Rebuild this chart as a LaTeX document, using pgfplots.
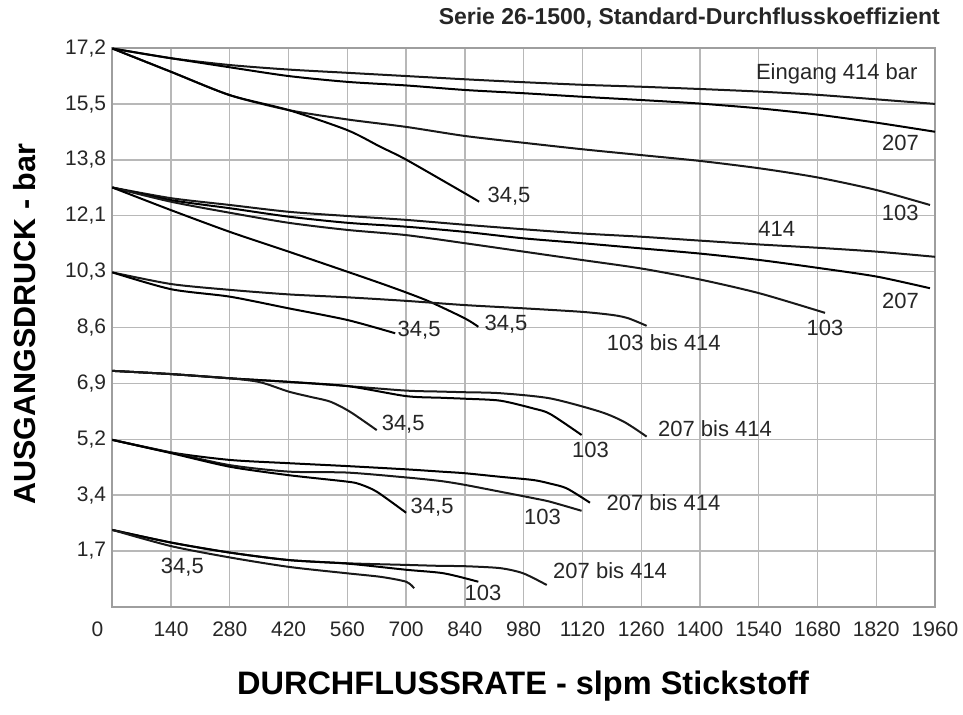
\documentclass[border=0pt]{standalone}
\usepackage{fontspec}
\setmainfont{Liberation Sans}
\usepackage{pgfplots}
\pgfplotsset{compat=1.18}
\begin{document}
\begin{tikzpicture}[x=1bp,y=1bp]
\path[use as bounding box] (0,0) rectangle (963,715);
\begin{axis}[
  at={(112.3bp,108.3bp)}, anchor=south west,
  width=822.7bp, height=558.4bp, scale only axis,
  xmin=0, xmax=1960, ymin=0, ymax=17.237,
  xtick={0,140,...,1960},
  xticklabels={\makebox[0pt][r]{0\hspace{9bp}},140,280,420,560,700,840,980,1120,1260,1400,1540,1680,1820,1960},
  ytick={1.7237,3.4474,5.1711,6.8948,8.6185,10.3422,12.0659,13.7896,15.5133,17.237},
  yticklabels={{1,7},{3,4},{5,2},{6,9},{8,6},{10,3},{12,1},{13,8},{15,5},{17,2}},
  major tick length=0pt,
  grid=major,
  major grid style={draw=black!28, line width=1.3bp},
  axis line style={draw=black!38, line width=2bp},
  xticklabel style={font=\fontsize{21bp}{25bp}\selectfont, anchor=north, inner sep=0pt, yshift=-15bp, text=black!85},
  yticklabel style={font=\fontsize{21bp}{25bp}\selectfont, anchor=east, inner sep=0pt, xshift=-6bp, text=black!85},
  cycle list={{black!90, solid}},
  every axis plot/.append style={line width=2bp, smooth, tension=0.45, no markers},
  clip=false,
]
% group 1
\addplot coordinates {(0,17.23)(140,16.93)(280,16.72)(420,16.58)(560,16.48)(700,16.38)(840,16.28)(980,16.19)(1120,16.11)(1260,16.05)(1400,15.98)(1543,15.90)(1680,15.80)(1821,15.66)(1960,15.52)};
\addplot coordinates {(0,17.23)(140,16.93)(280,16.65)(420,16.38)(560,16.20)(700,16.09)(840,15.95)(980,15.85)(1120,15.74)(1260,15.64)(1400,15.53)(1543,15.38)(1680,15.19)(1821,14.94)(1960,14.66)};
\addplot coordinates {(0,17.23)(140,16.51)(280,15.79)(420,15.33)(560,15.04)(700,14.81)(840,14.53)(980,14.32)(1120,14.12)(1260,13.94)(1400,13.76)(1543,13.53)(1680,13.25)(1821,12.86)(1948,12.40)};
\addplot coordinates {(0,17.23)(140,16.51)(280,15.79)(420,15.33)(560,14.71)(638,14.20)(700,13.80)(840,12.76)(874,12.50)};
% group 2
\addplot coordinates {(0,12.94)(140,12.61)(280,12.40)(420,12.19)(560,12.06)(700,11.94)(840,11.79)(980,11.65)(1120,11.52)(1260,11.42)(1400,11.30)(1543,11.18)(1680,11.08)(1821,10.96)(1960,10.80)};
\addplot coordinates {(0,12.94)(140,12.55)(280,12.30)(420,12.04)(560,11.85)(700,11.73)(840,11.57)(980,11.37)(1120,11.22)(1260,11.06)(1400,10.90)(1543,10.70)(1680,10.46)(1821,10.19)(1948,9.83)};
\addplot coordinates {(0,12.94)(140,12.50)(280,12.16)(420,11.85)(560,11.63)(700,11.47)(840,11.22)(980,10.96)(1120,10.70)(1260,10.44)(1400,10.10)(1543,9.67)(1698,9.07)};
\addplot coordinates {(0,12.94)(140,12.24)(280,11.57)(420,10.96)(560,10.34)(638,9.99)(700,9.70)(757,9.41)(840,8.90)(872,8.64)};
% group 3
\addplot coordinates {(0,10.32)(140,9.96)(280,9.78)(420,9.64)(560,9.55)(700,9.44)(840,9.31)(980,9.21)(1120,9.10)(1194,9.00)(1230,8.90)(1273,8.67)};
\addplot coordinates {(0,10.32)(140,9.80)(280,9.57)(420,9.21)(560,8.85)(674,8.44)};
% group 4
\addplot coordinates {(0,7.28)(140,7.18)(280,7.05)(420,6.94)(560,6.81)(700,6.67)(782,6.64)(840,6.62)(924,6.59)(1043,6.43)(1162,6.02)(1220,5.70)(1273,5.25)};
\addplot coordinates {(0,7.28)(140,7.18)(280,7.05)(420,6.94)(560,6.81)(700,6.50)(782,6.45)(840,6.42)(924,6.36)(1003,6.12)(1043,5.95)(1118,5.30)};
\addplot coordinates {(0,7.28)(140,7.18)(280,7.05)(352,6.93)(420,6.64)(471,6.48)(519,6.33)(566,6.02)(630,5.45)};
% group 5
\addplot coordinates {(0,5.15)(140,4.76)(280,4.53)(420,4.43)(560,4.34)(700,4.24)(782,4.17)(840,4.12)(924,4.01)(1003,3.91)(1043,3.80)(1083,3.65)(1138,3.21)};
\addplot coordinates {(0,5.15)(140,4.76)(280,4.37)(420,4.17)(560,4.14)(700,3.99)(782,3.88)(840,3.76)(924,3.55)(1003,3.35)(1043,3.24)(1118,2.96)};
\addplot coordinates {(0,5.15)(140,4.74)(280,4.32)(420,4.06)(560,3.86)(590,3.78)(630,3.55)(700,2.90)};
% group 6
\addplot coordinates {(0,2.37)(140,1.98)(280,1.67)(420,1.44)(560,1.34)(700,1.29)(782,1.26)(840,1.25)(924,1.19)(979,1.03)(1035,0.67)};
\addplot coordinates {(0,2.37)(140,1.98)(280,1.67)(420,1.44)(560,1.33)(700,1.14)(790,1.03)(872,0.77)};
\addplot coordinates {(0,2.37)(140,1.87)(280,1.52)(420,1.23)(560,1.03)(640,0.92)(700,0.77)(719,0.57)};
% labels
\begin{scope}[every node/.style={anchor=base, inner sep=0pt, font=\fontsize{22bp}{26bp}\selectfont, text=black!85}]
\node at (axis cs:1726,16.28) {Eingang 414 bar};
\node at (axis cs:1878,14.07) {207};
\node at (axis cs:1877,11.93) {103};
\node at (axis cs:1583,11.42) {414};
\node at (axis cs:1878,9.21) {207};
\node at (axis cs:1698,8.36) {103};
\node at (axis cs:945,12.48) {34,5};
\node at (axis cs:938,8.54) {34,5};
\node at (axis cs:731,8.33) {34,5};
\node at (axis cs:1314,7.90) {103 bis 414};
\node at (axis cs:693,5.45) {34,5};
\node at (axis cs:1436,5.25) {207 bis 414};
\node at (axis cs:1139,4.61) {103};
\node at (axis cs:762,2.89) {34,5};
\node at (axis cs:1313,2.98) {207 bis 414};
\node at (axis cs:1025,2.53) {103};
\node at (axis cs:167,1.01) {34,5};
\node at (axis cs:883,0.18) {103};
\node at (axis cs:1186,0.88) {207 bis 414};
\end{scope}
\end{axis}
\node[anchor=base east, inner sep=0pt, font=\bfseries\fontsize{23bp}{27bp}\selectfont, text=black!85] at (940,690) {Serie 26-1500, Standard-Durchflusskoeffizient};
\node[anchor=base, inner sep=0pt, font=\bfseries\fontsize{32.5bp}{36bp}\selectfont] at (523,20.4) {DURCHFLUSSRATE - slpm Stickstoff};
\node[anchor=base, inner sep=0pt, rotate=90, font=\bfseries\fontsize{30.5bp}{34bp}\selectfont] at (35,391) {AUSGANGSDRUCK - bar};
\end{tikzpicture}
\end{document}
